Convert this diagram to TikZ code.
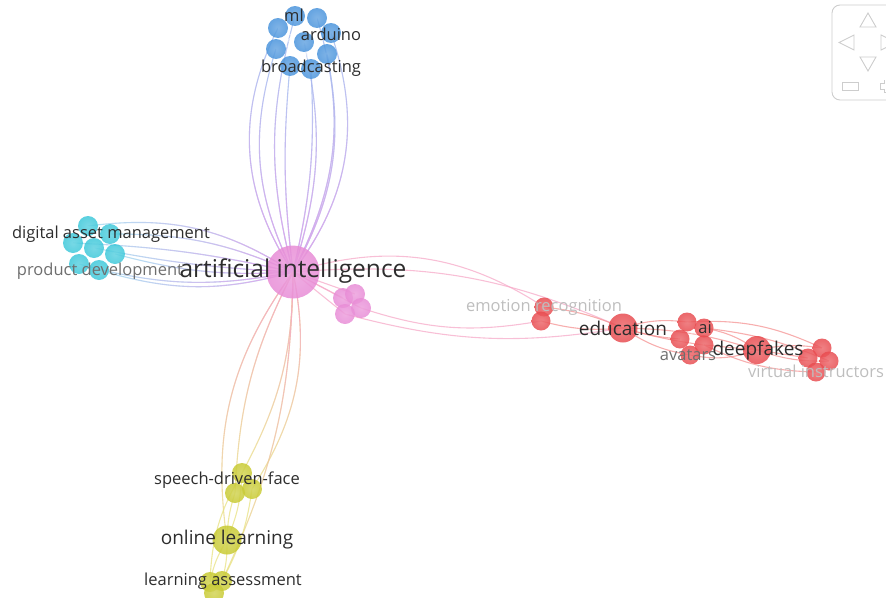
\documentclass[tikz,border=0pt]{standalone}
\usepackage{fontspec}
\setmainfont{Open Sans}
\usetikzlibrary{backgrounds,fadings}

\definecolor{cBlue}{RGB}{74,148,220}
\definecolor{cCyan}{RGB}{62,200,218}
\definecolor{cPink}{RGB}{232,140,214}
\definecolor{cRed}{RGB}{232,76,80}
\definecolor{cYellow}{RGB}{200,202,50}
\definecolor{eBlueC}{RGB}{160,190,240}
\definecolor{eCyanC}{RGB}{160,220,240}
\definecolor{eMixC}{RGB}{225,165,235}
\definecolor{ePinkC}{RGB}{246,170,200}
\definecolor{eRedC}{RGB}{244,140,140}
\definecolor{eYelC}{RGB}{232,226,130}
\definecolor{txtDark}{RGB}{45,45,45}
\definecolor{txtGray}{RGB}{110,110,110}
\definecolor{txtLight}{RGB}{190,190,190}
\definecolor{navGray}{RGB}{205,205,205}

% soft masks that keep the tint near the central term only
\tikzfading[name=keeplow, top color=transparent!100, bottom color=transparent!0]
\tikzfading[name=keephigh, top color=transparent!0, bottom color=transparent!100]
\tikzfading[name=keepright, left color=transparent!100, right color=transparent!0]

\begin{document}
\begin{tikzpicture}[x=1pt,y=-1pt,
  ball/.style={circle,inner sep=0pt,draw=none,fill opacity=0.85,
    inner color=#1!82!white,outer color=#1},
  bblue/.style={ball=cBlue,minimum size=20pt},
  bcyan/.style={ball=cCyan,minimum size=20pt},
  bpink/.style={ball=cPink,minimum size=20pt},
  bred/.style={ball=cRed,minimum size=19pt},
  byel/.style={ball=cYellow,minimum size=20pt},
  lbl/.style={inner sep=0pt,text=txtDark,font=\fontsize{16.5}{16.5}\selectfont},
  lblbig/.style={inner sep=0pt,text=txtDark,font=\fontsize{19}{19}\selectfont},
  lw/.style={line width=1.1pt},
  eblue/.style={lw,draw=eBlueC,draw opacity=0.8},
  eblueov/.style={lw,draw=eMixC,path fading=keeplow},
  einblue/.style={draw=white,line width=0.8pt,draw opacity=0.55},
  ecyan/.style={lw,draw=eCyanC,draw opacity=0.8},
  ecyanov/.style={lw,draw=eMixC,path fading=keepright},
  epink/.style={lw,draw=ePinkC,draw opacity=0.75},
  ered/.style={lw,draw=eRedC,draw opacity=0.7},
  eyel/.style={lw,draw=eYelC,draw opacity=0.75},
  eyelov/.style={lw,draw=ePinkC,path fading=keephigh},
  nav/.style={draw=navGray,line width=0.9pt}
]
\useasboundingbox (0,0) rectangle (886,597);

% ---- central term ----
\node[ball=cPink,minimum size=53pt] (ai) at (293,272) {};

% ---- blue cluster ----
\node[bblue] (b1) at (295,16) {};
\node[bblue] (b2) at (317,18) {};
\node[bblue] (b3) at (278,28) {};
\node[bblue] (b4) at (331,33) {};
\node[bblue] (b5) at (304,42) {};
\node[bblue] (b6) at (276,49) {};
\node[bblue] (b7) at (327,54) {};
\node[bblue] (b8) at (290,66) {};
\node[bblue] (b9) at (311,69) {};

% ---- cyan cluster ----
\node[bcyan] (c1) at (88,226) {};
\node[bcyan] (c2) at (110,234) {};
\node[bcyan] (c3) at (73,243) {};
\node[bcyan] (c4) at (94,248) {};
\node[bcyan] (c5) at (115,254) {};
\node[bcyan] (c6) at (79,264) {};
\node[bcyan] (c7) at (99,270) {};

% ---- pink cluster ----
\node[bpink] (p1) at (343,298) {};
\node[bpink] (p2) at (355,294) {};
\node[bpink] (p3) at (361,308) {};
\node[bpink] (p4) at (345,314) {};

% ---- red cluster ----
\node[bred] (r1) at (544,307) {};
\node[bred] (r2) at (541,321) {};
\node[ball=cRed,minimum size=29pt] (edu) at (623,328) {};
\node[bred] (a1) at (687,322) {};
\node[bred] (a2) at (704,328) {};
\node[bred] (a3) at (680,339) {};
\node[bred] (a4) at (704,345) {};
\node[bred] (a5) at (690,355) {};
\node[ball=cRed,minimum size=28pt] (dfk) at (757,350) {};
\node[bred] (v1) at (822,348) {};
\node[bred] (v2) at (808,358) {};
\node[bred] (v3) at (829,361) {};
\node[bred] (v4) at (816,372) {};

% ---- yellow cluster ----
\node[byel] (y1) at (242,473) {};
\node[byel] (y2) at (252,489) {};
\node[byel] (y3) at (235,493) {};
\node[ball=cYellow,minimum size=29pt] (ol) at (227,540) {};
\node[byel] (la1) at (210,582) {};
\node[byel] (la2) at (222,581) {};
\node[byel] (la3) at (214,593) {};

% ---- links ----
\begin{scope}[on background layer]
  % to the blue cluster (blue above, tinted towards the centre)
  \foreach \v/\b in {b3/30,b6/22,b1/15,b8/6,b9/-8,b5/-15,b2/-22,b4/-28,b7/-20}{
    \draw[eblue] (ai.center) to[bend left=\b] (\v.center);
    \draw[eblueov] (ai.center) to[bend left=\b] (\v.center);
  }
  \foreach \u/\v in {b1/b5,b2/b5,b3/b5,b4/b5,b6/b5,b7/b5,b8/b5,b9/b5,b1/b8,b3/b9,b2/b6,b4/b8,b6/b7,b1/b9}
    \draw[einblue] (\u.center) -- (\v.center);
  % to the cyan cluster
  \foreach \v/\b in {c1/-20,c2/-12,c3/-5,c4/4,c5/9,c6/13,c7/16}{
    \draw[ecyan] (ai.center) to[bend left=\b] (\v.center);
    \draw[ecyanov] (ai.center) to[bend left=\b] (\v.center);
  }
  \foreach \u/\v in {c1/c4,c2/c4,c3/c4,c5/c4,c6/c4,c7/c4}
    \draw[einblue] (\u.center) -- (\v.center);
  % to the pink cluster
  \foreach \v in {p1,p2,p3,p4}
    \draw[epink] (ai.center) -- (\v.center);
  % to and within the red cluster
  \draw[epink] (ai.center) to[bend left=25] (r1.center);
  \draw[epink] (ai.center) to[bend left=14] (edu.center);
  \draw[epink] (p3.center) to[bend right=14] (r2.center);
  \draw[epink] (p4.center) to[bend right=12] (edu.center);
  \draw[ered] (r2.center) to[bend right=10] (edu.center);
  \draw[ered] (r1.center) to[bend left=8] (edu.center);
  \draw[ered] (edu.center) to[bend left=12] (a1.center);
  \draw[ered] (edu.center) to[bend right=6] (a3.center);
  \draw[ered] (edu.center) to[bend right=12] (a5.center);
  \draw[ered] (edu.center) to[bend left=8] (dfk.center);
  \draw[ered] (edu.center) to[bend right=4] (a4.center);
  \draw[ered] (a2.center) to[bend left=12] (dfk.center);
  \draw[ered] (a4.center) to (dfk.center);
  \draw[ered] (a5.center) to[bend right=15] (dfk.center);
  \draw[ered] (a1.center) to[bend left=14] (v1.center);
  \draw[ered] (dfk.center) to[bend left=10] (v1.center);
  \draw[ered] (dfk.center) to (v2.center);
  \draw[ered] (a4.center) to[bend right=12] (v4.center);
  \draw[ered] (dfk.center) to[bend right=10] (v3.center);
  \draw[ered] (a2.center) to[bend left=8] (v3.center);
  \foreach \u/\v in {a1/a4,a2/a3,a3/a4,a1/a5,v1/v4,v2/v3}
    \draw[draw=white,line width=0.8pt,draw opacity=0.45] (\u.center) -- (\v.center);
  % to and within the yellow cluster
  \foreach \v/\b in {ol/-22,y3/-12,y1/14,y2/22,la2/12}{
    \draw[eyel] (ai.center) to[bend left=\b] (\v.center);
    \draw[eyelov] (ai.center) to[bend left=\b] (\v.center);
  }
  \draw[eyel] (y3.center) to[bend right=8] (ol.center);
  \draw[eyel] (y1.center) to[bend left=10] (ol.center);
  \draw[eyel] (y2.center) to[bend left=10] (la2.center);
  \draw[eyel] (ol.center) to[bend right=10] (la1.center);
  \draw[eyel] (ol.center) to[bend left=8] (la2.center);
  \draw[eyel] (y1.center) to[bend right=14] (la1.center);
\end{scope}

% ---- labels ----
\node[lbl] (tml) at (294,15) {ml};
\node[lbl] (tard) at (331,34) {arduino};
\node[lbl] (tbro) at (311,68) {broadcasting};
\node[lbl] (tdam) at (111,234) {digital asset management};
\node[lbl,text=txtGray] (tpd) at (100,271) {product development};
\node[inner sep=0pt,text=txtDark,font=\fontsize{24.5}{24.5}\selectfont] (tai) at (293,271) {artificial intelligence};
\node[lbl,text=txtLight] (temo) at (544,307) {emotion recognition};
\node[lblbig] (tedu) at (623,328) {education};
\node[lbl] (tain) at (705,328) {ai};
\node[lbl,text=txtGray] (tava) at (688,355) {avatars};
\node[lblbig] (tdfk) at (758,351) {deepfakes};
\node[lbl,text=txtLight] (tvi) at (816,371) {virtual instructors};
\node[lbl] (tsdf) at (227,480) {speech-driven-face};
\node[lblbig] (tol) at (227,540) {online learning};
\node[lbl] (tla) at (223,581) {learning assessment};

% ---- navigation control ----
\draw[nav,rounded corners=8pt] (832,5) rectangle (905,100);
\draw[nav] (860,27) -- (876,27) -- (868,13) -- cycle;
\draw[nav] (854,35) -- (854,50) -- (839,42.5) -- cycle;
\draw[nav] (881,35) -- (881,50) -- (896,42.5) -- cycle;
\draw[nav] (860,57) -- (876,57) -- (868,71) -- cycle;
\draw[nav] (842,82) rectangle (858,90);
\draw[nav] (884,80) -- (884,83) -- (880,83) -- (880,89) -- (884,89) -- (884,92) -- (892,92);
\end{tikzpicture}
\end{document}
